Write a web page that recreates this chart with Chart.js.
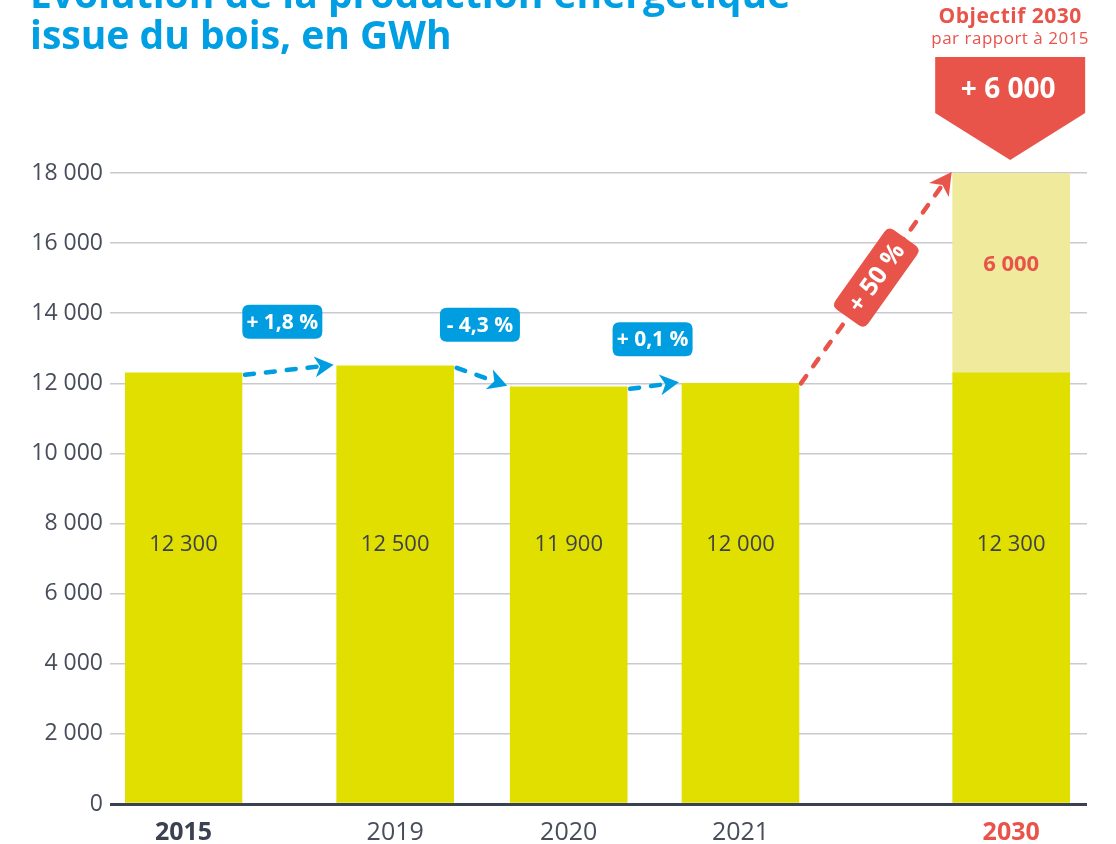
<!DOCTYPE html>
<html lang="fr">
<head>
<meta charset="utf-8">
<title>Évolution de la production énergétique issue du bois</title>
<script src="https://cdn.jsdelivr.net/npm/chart.js@4.4.1/dist/chart.umd.min.js"></script>
<style>
  html, body { margin: 0; padding: 0; background: #fff; }
</style>
</head>
<body>
<canvas id="boisChart" width="1116" height="844"></canvas>
<script>
// ===== DONNÉES =====
const years = ['2015', '2019', '2020', '2021', '2030'];
const production = [12300, 12500, 11900, 12000, 12300];
const objectiveTop = 18000;     // haut de la barre objectif 2030
const objectiveGain = 6000;     // gain affiché par rapport à 2015
const changeLabels = ['+ 1,8 %', '- 4,3 %', '+ 0,1 %'];
const objectiveChange = '+ 50 %';
const yTicks = [0, 2000, 4000, 6000, 8000, 10000, 12000, 14000, 16000, 18000];

// ===== MISE EN PAGE =====
const xSlots = [0, 1.22, 2.22, 3.21, 4.77];
const BAR_W = 117;
const LABEL_LEVEL = 7450;

const YELLOW = '#e1df00';
const PALE = '#f0eb9c';
const RED = '#e9544a';
const BLUE = '#009ee0';
const DARK = '#3a4150';
const GREY_TXT = '#474d5a';
const FONT = '"Open Sans", "DejaVu Sans", sans-serif';

const fmt = v => String(v).replace(/\B(?=(\d{3})+(?!\d))/g, ' ');

function roundRect(ctx, x, y, w, h, r) {
  ctx.beginPath();
  ctx.moveTo(x + r, y);
  ctx.lineTo(x + w - r, y);
  ctx.quadraticCurveTo(x + w, y, x + w, y + r);
  ctx.lineTo(x + w, y + h - r);
  ctx.quadraticCurveTo(x + w, y + h, x + w - r, y + h);
  ctx.lineTo(x + r, y + h);
  ctx.quadraticCurveTo(x, y + h, x, y + h - r);
  ctx.lineTo(x, y + r);
  ctx.quadraticCurveTo(x, y, x + r, y);
  ctx.closePath();
}

function dashedArrow(ctx, x1, y1, x2, y2, color, head) {
  const a = Math.atan2(y2 - y1, x2 - x1);
  const ex = x2 - Math.cos(a) * head * 0.75;
  const ey = y2 - Math.sin(a) * head * 0.75;
  ctx.save();
  ctx.strokeStyle = color;
  ctx.lineWidth = 4.5;
  ctx.lineCap = 'round';
  ctx.setLineDash([9, 12]);
  ctx.beginPath();
  ctx.moveTo(x1, y1);
  ctx.lineTo(ex, ey);
  ctx.stroke();
  ctx.setLineDash([]);
  ctx.translate(x2, y2);
  ctx.rotate(a);
  ctx.fillStyle = color;
  ctx.beginPath();
  ctx.moveTo(0, 0);
  ctx.lineTo(-head, -head * 0.55);
  ctx.lineTo(-head * 0.72, 0);
  ctx.lineTo(-head, head * 0.55);
  ctx.closePath();
  ctx.fill();
  ctx.restore();
}

function badge(ctx, cx, cy, w, h, angle, color, text, font) {
  ctx.save();
  ctx.translate(cx, cy);
  ctx.rotate(angle);
  ctx.fillStyle = color;
  roundRect(ctx, -w / 2, -h / 2, w, h, 7);
  ctx.fill();
  ctx.fillStyle = '#fff';
  ctx.font = font;
  ctx.textAlign = 'center';
  ctx.textBaseline = 'middle';
  ctx.fillText(text, 0, 1);
  ctx.restore();
}

const annotations = {
  id: 'annotations',
  afterDatasetsDraw(chart) {
    const { ctx, scales: { x, y } } = chart;
    const half = BAR_W / 2;
    const cx = i => x.getPixelForValue(xSlots[i]);

    // valeurs dans les barres
    ctx.save();
    ctx.font = '22px ' + FONT;
    ctx.fillStyle = '#3d414b';
    ctx.textAlign = 'center';
    ctx.textBaseline = 'middle';
    production.forEach((v, i) => ctx.fillText(fmt(v), cx(i), y.getPixelForValue(LABEL_LEVEL) + 2));
    ctx.font = 'bold 22px ' + FONT;
    ctx.fillStyle = RED;
    const last = production.length - 1;
    const midY = (y.getPixelForValue(production[last]) + y.getPixelForValue(objectiveTop)) / 2 - 8;
    ctx.fillText(fmt(objectiveGain), cx(last), midY);
    ctx.restore();

    // flèches bleues + pastilles
    for (let i = 0; i < changeLabels.length; i++) {
      const xa = cx(i) + half + 3, ya = y.getPixelForValue(production[i]) + 2;
      const xb = cx(i + 1) - half - 3, yb = y.getPixelForValue(production[i + 1]) - 1;
      dashedArrow(ctx, xa, ya, xb, yb, BLUE, 19);
      const shift = i === 0 ? -7 : -2;
      badge(ctx, (xa + xb) / 2 + shift, Math.min(ya, yb) - 43, 80, 34, 0, BLUE, changeLabels[i], 'bold 21px ' + FONT);
    }

    // flèche rouge vers l'objectif
    const xr1 = cx(last - 1) + half + 2, yr1 = y.getPixelForValue(production[last - 1]);
    const xr2 = cx(last) - half - 1, yr2 = y.getPixelForValue(objectiveTop) - 1;
    dashedArrow(ctx, xr1, yr1, xr2, yr2, RED, 22);
    const ang = Math.atan2(yr2 - yr1, xr2 - xr1);
    badge(ctx, (xr1 + xr2) / 2, (yr1 + yr2) / 2, 98, 40, ang, RED, objectiveChange, 'bold 25px ' + FONT);

    // cartouche objectif
    const px = cx(last) - 1, pTip = y.getPixelForValue(objectiveTop) - 13;
    ctx.save();
    ctx.fillStyle = RED;
    ctx.beginPath();
    ctx.moveTo(px - 75, pTip - 103);
    ctx.lineTo(px + 75, pTip - 103);
    ctx.lineTo(px + 75, pTip - 47);
    ctx.lineTo(px, pTip);
    ctx.lineTo(px - 75, pTip - 47);
    ctx.closePath();
    ctx.fill();
    ctx.fillStyle = '#fff';
    ctx.font = 'bold 28px ' + FONT;
    ctx.textAlign = 'center';
    ctx.textBaseline = 'middle';
    ctx.fillText('+ ' + fmt(objectiveGain), px - 2, pTip - 70);
    ctx.fillStyle = RED;
    ctx.textBaseline = 'alphabetic';
    ctx.letterSpacing = '0.5px';
    ctx.font = 'bold 21px ' + FONT;
    ctx.fillText('Objectif 2030', px, 23);
    ctx.font = '17px ' + FONT;
    ctx.fillText('par rapport à 2015', px, 44);

    // titre
    ctx.letterSpacing = '0px';
    ctx.textAlign = 'left';
    ctx.fillStyle = '#009fe3';
    ctx.font = 'bold 39px ' + FONT;
    ctx.fillText('Évolution de la production énergétique', 30, 8);
    ctx.fillText('issue du bois, en GWh', 30, 49);
    ctx.restore();
  }
};

new Chart(document.getElementById('boisChart'), {
  type: 'bar',
  data: {
    datasets: [
      {
        label: 'Production',
        data: production.map((v, i) => ({ x: xSlots[i], y: v })),
        backgroundColor: YELLOW,
        barThickness: BAR_W,
        order: 1
      },
      {
        label: 'Objectif 2030',
        data: [{ x: xSlots[xSlots.length - 1], y: [production[production.length - 1], objectiveTop] }],
        backgroundColor: PALE,
        barThickness: BAR_W,
        order: 2
      }
    ]
  },
  options: {
    responsive: false,
    animation: false,
    layout: { padding: { top: 173, right: 29, left: 0, bottom: 0 } },
    plugins: {
      legend: { display: false },
      tooltip: { enabled: false }
    },
    scales: {
      x: {
        type: 'linear',
        stacked: true,
        offset: false,
        min: -0.337,
        max: 5.207,
        grid: { display: false },
        border: { display: false },
        afterBuildTicks: s => { s.ticks = xSlots.map(v => ({ value: v })); },
        afterFit: s => { s.height = 40; },
        ticks: {
          padding: 6,
          autoSkip: false,
          maxRotation: 0,
          callback: (v, i) => years[i],
          color: c => c.index === 0 ? DARK : (c.index === years.length - 1 ? RED : GREY_TXT),
          font: c => ({
            family: FONT,
            size: 25,
            weight: (c.index === 0 || c.index === years.length - 1) ? 'bold' : 'normal'
          })
        }
      },
      y: {
        min: 0,
        max: 18000,
        afterBuildTicks: s => { s.ticks = yTicks.map(v => ({ value: v })); },
        afterFit: s => { s.width = 125; },
        border: { display: false },
        grid: {
          color: c => c.tick && c.tick.value === 0 ? DARK : '#c9c9cf',
          lineWidth: c => c.tick && c.tick.value === 0 ? 3 : 1.5,
          tickLength: 15
        },
        ticks: {
          padding: 7,
          color: GREY_TXT,
          font: { family: FONT, size: 23 },
          callback: v => fmt(v)
        }
      }
    }
  },
  plugins: [annotations]
});
</script>
</body>
</html>
